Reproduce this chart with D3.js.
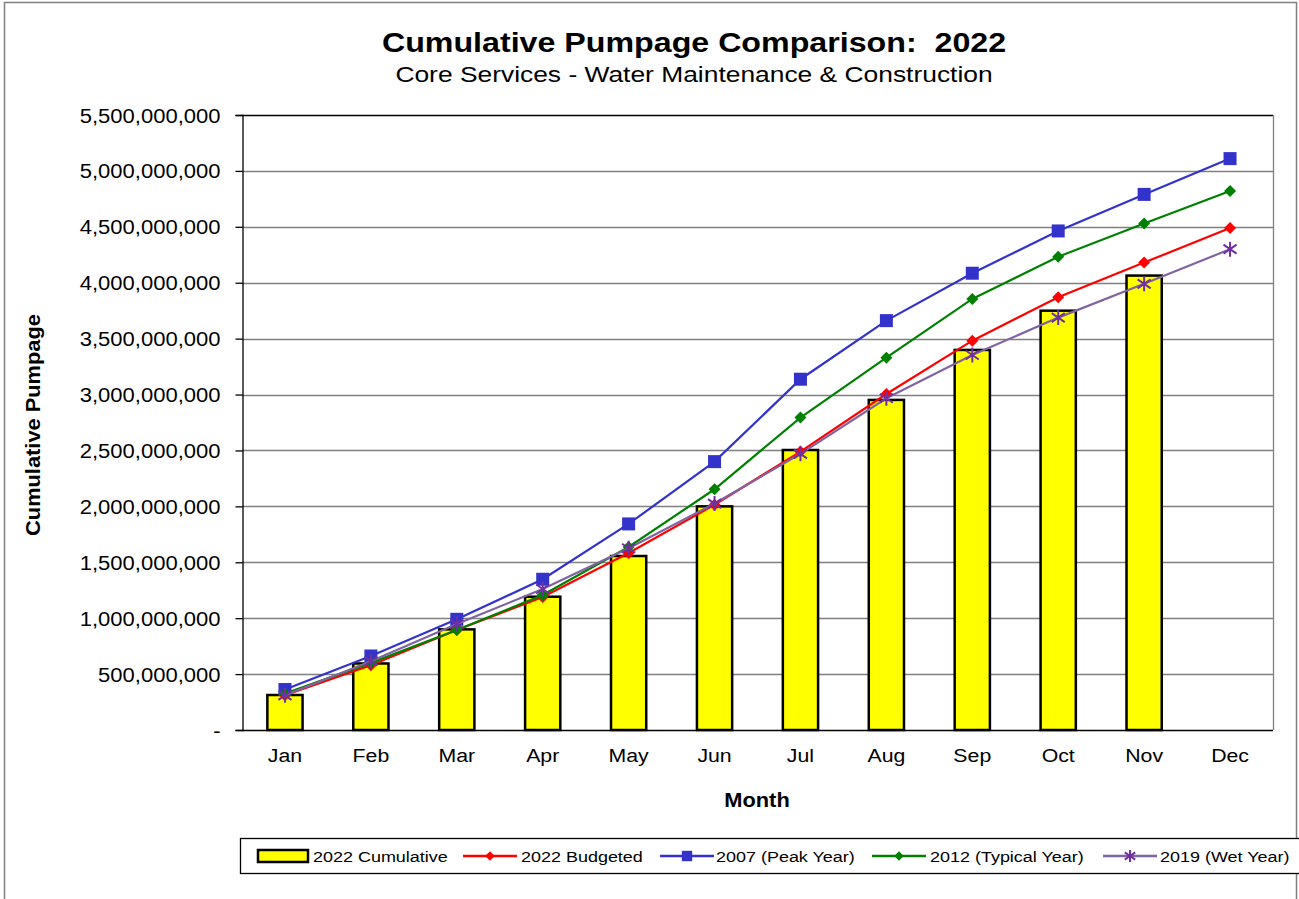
<!DOCTYPE html>
<html>
<head>
<meta charset="utf-8">
<script src="https://d3js.org/d3.v7.min.js"></script>
<style>
  body { margin: 0; background: #fff; }
  svg { display: block; font-family: "Liberation Sans", Arial, sans-serif; }
  text { white-space: pre; }
</style>
</head>
<body>
<svg id="chart" width="1299" height="899"></svg>
<script>
// data
var months = ["Jan","Feb","Mar","Apr","May","Jun","Jul","Aug","Sep","Oct","Nov","Dec"];
var cum2022 = [313e6, 595e6, 900e6, 1192e6, 1556e6, 2000e6, 2504e6, 2952e6, 3399e6, 3750e6, 4064e6, null];
var budget2022 = [310e6, 580e6, 895e6, 1190e6, 1583e6, 2015e6, 2490e6, 3005e6, 3482e6, 3870e6, 4180e6, 4490e6];
var peak2007 = [362e6, 662e6, 990e6, 1348e6, 1843e6, 2400e6, 3137e6, 3661e6, 4085e6, 4463e6, 4790e6, 5110e6];
var typical2012 = [325e6, 600e6, 894e6, 1207e6, 1637e6, 2153e6, 2794e6, 3330e6, 3855e6, 4233e6, 4530e6, 4820e6];
var wet2019 = [310e6, 615e6, 948e6, 1261e6, 1625e6, 2025e6, 2470e6, 2967e6, 3354e6, 3688e6, 3990e6, 4300e6];
var yTicks = [0, 5e8, 1e9, 1.5e9, 2e9, 2.5e9, 3e9, 3.5e9, 4e9, 4.5e9, 5e9, 5.5e9];

var series = [
  {name: "2022 Budgeted", values: budget2022, line: "#ff0000", mark: "#ff0000", shape: "diamond", size: 6},
  {name: "2007 (Peak Year)", values: peak2007, line: "#3333cc", mark: "#3333cc", shape: "square", size: 6.5},
  {name: "2012 (Typical Year)", values: typical2012, line: "#008000", mark: "#008000", shape: "diamond", size: 6},
  {name: "2019 (Wet Year)", values: wet2019, line: "#8064a2", mark: "#7030a0", shape: "star", size: 7.5}
];

var SX = 1.12; // text in the reference is a bit wider than it is tall
var svg = d3.select("#chart");

// stretched text helper
var addText = function(g, px, py, str, size, anchor, weight, sx) {
  return g.append("text")
    .attr("transform", "translate(" + px + "," + py + ") scale(" + (sx || SX) + ",1)")
    .attr("text-anchor", anchor || "middle")
    .attr("font-size", size)
    .attr("font-weight", weight || "normal")
    .attr("fill", "#000")
    .text(str);
};

// outer chart border
svg.append("rect")
  .attr("x", 4.5).attr("y", 2.5)
  .attr("width", 1292).attr("height", 1000)
  .attr("fill", "none").attr("stroke", "#808080").attr("stroke-width", 1.5);

// plot area
var plotL = 242, plotR = 1273, plotT = 115, plotB = 730;

var x = d3.scaleBand()
  .domain(months)
  .range([plotL, plotR])
  .paddingInner(0.59)
  .paddingOuter(0.295);

var y = d3.scaleLinear()
  .domain([0, 5.5e9])
  .range([plotB, plotT]);

var cx = function(m) { return x(m) + x.bandwidth() / 2; };

// gridlines
svg.append("g")
  .selectAll("line")
  .data(yTicks.filter(function(d) { return d > 0; }))
  .enter()
  .append("line")
  .attr("x1", plotL).attr("x2", plotR)
  .attr("y1", function(d) { return Math.round(y(d)) + 0.5; })
  .attr("y2", function(d) { return Math.round(y(d)) + 0.5; })
  .attr("stroke", function(d) { return d === 5.5e9 ? "#000" : "#808080"; })
  .attr("stroke-width", 1.3);

// right border of plot
svg.append("line")
  .attr("x1", plotR + 0.5).attr("x2", plotR + 0.5)
  .attr("y1", plotT).attr("y2", plotB)
  .attr("stroke", "#808080").attr("stroke-width", 1.3);

// y axis
var yAxis = d3.axisLeft(y)
  .tickValues(yTicks)
  .tickSize(7)
  .tickFormat(function(d) { return d === 0 ? "-" : d3.format(",")(d); });

var yg = svg.append("g")
  .attr("transform", "translate(" + (plotL + 0.5) + ",0)")
  .call(yAxis);
yg.select(".domain").attr("stroke", "#000").attr("stroke-width", 1.3);
yg.selectAll(".tick line").attr("stroke", "#000").attr("stroke-width", 1.3);
yg.selectAll(".tick text").remove();
yg.selectAll(".tick").each(function(d) {
  addText(d3.select(this), -22, 7, d === 0 ? "-" : d3.format(",")(d), 19.5, "end", "normal", 1.13);
});

// bars
svg.append("g")
  .selectAll("rect")
  .data(months.map(function(m, i) { return {m: m, v: cum2022[i]}; })
    .filter(function(d) { return d.v != null; }))
  .enter()
  .append("rect")
  .attr("x", function(d) { return x(d.m); })
  .attr("y", function(d) { return y(d.v); })
  .attr("width", x.bandwidth())
  .attr("height", function(d) { return y(0) - y(d.v); })
  .attr("fill", "#ffff00")
  .attr("stroke", "#000")
  .attr("stroke-width", 2.5);

// x axis line
var xg = svg.append("g")
  .attr("transform", "translate(0," + (plotB + 0.5) + ")")
  .call(d3.axisBottom(x).tickSize(0).tickFormat(""));
xg.select(".domain").attr("stroke", "#000").attr("stroke-width", 1.3)
  .attr("d", "M" + plotL + ",0H" + plotR);
months.forEach(function(m) {
  addText(svg, cx(m), 762, m, 19, "middle");
});

// markers
var drawMarker = function(g, shape, px, py, s, color) {
  if (shape === "square") {
    g.append("rect")
      .attr("x", px - s).attr("y", py - s)
      .attr("width", 2 * s).attr("height", 2 * s)
      .attr("fill", color);
  } else if (shape === "diamond") {
    g.append("path")
      .attr("d", "M" + px + "," + (py - s) + "L" + (px + s) + "," + py +
                 "L" + px + "," + (py + s) + "L" + (px - s) + "," + py + "Z")
      .attr("fill", color);
  } else {
    var d = s * 0.87;
    g.append("path")
      .attr("d", "M" + px + "," + (py - s) + "V" + (py + s) +
                 "M" + (px - d) + "," + (py - s * 0.6) + "L" + (px + d) + "," + (py + s * 0.6) +
                 "M" + (px - d) + "," + (py + s * 0.6) + "L" + (px + d) + "," + (py - s * 0.6))
      .attr("stroke", color).attr("stroke-width", 2).attr("fill", "none");
  }
};

var line = d3.line()
  .x(function(d) { return cx(d.m); })
  .y(function(d) { return y(d.v); });

series.forEach(function(s) {
  var pts = months.map(function(m, i) { return {m: m, v: s.values[i]}; });
  var g = svg.append("g");
  g.append("path")
    .datum(pts)
    .attr("d", line)
    .attr("fill", "none")
    .attr("stroke", s.line)
    .attr("stroke-width", 2.2);
  pts.forEach(function(p) {
    drawMarker(g, s.shape, cx(p.m), y(p.v), s.size, s.mark);
  });
});

// titles
addText(svg, 694, 52, "Cumulative Pumpage Comparison:  2022", 28, "middle", "bold", 1.15);
addText(svg, 694, 82, "Core Services - Water Maintenance & Construction", 22, "middle", "normal", 1.2);
addText(svg, 757, 807, "Month", 19.5, "middle", "bold");
var yt = svg.append("g").attr("transform", "translate(40,425) rotate(-90)");
addText(yt, 0, 0, "Cumulative Pumpage", 19.5, "middle", "bold");

// legend
var lg = svg.append("g");
lg.append("rect")
  .attr("x", 240.5).attr("y", 838.5)
  .attr("width", 1070).attr("height", 35)
  .attr("fill", "#fff").attr("stroke", "#000").attr("stroke-width", 1.3);
var ly = 856;
lg.append("rect")
  .attr("x", 258).attr("y", ly - 6)
  .attr("width", 50).attr("height", 12)
  .attr("fill", "#ffff00").attr("stroke", "#000").attr("stroke-width", 2.5);
addText(lg, 313, ly + 5.5, "2022 Cumulative", 15.5, "start", "normal", 1.16);

var legendPos = [[463, 521], [660, 716], [872, 930], [1103, 1160]];
series.forEach(function(s, i) {
  var x0 = legendPos[i][0], tx = legendPos[i][1];
  lg.append("line")
    .attr("x1", x0).attr("x2", x0 + 54)
    .attr("y1", ly).attr("y2", ly)
    .attr("stroke", s.line).attr("stroke-width", 2.5);
  drawMarker(lg, s.shape, x0 + 27, ly, s.size * 0.8, s.mark);
  addText(lg, tx, ly + 5.5, s.name, 15.5, "start", "normal", 1.16);
});
</script>
</body>
</html>
